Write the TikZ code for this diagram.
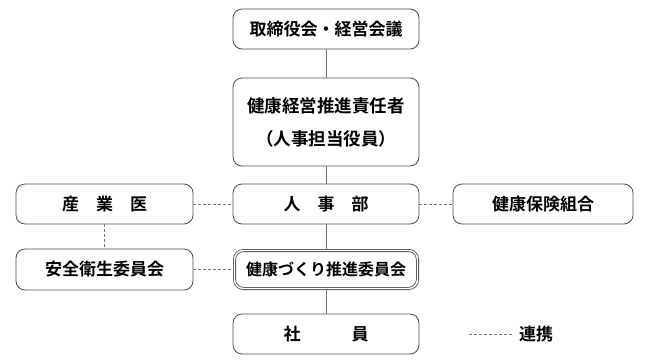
\documentclass[tikz,border=0pt]{standalone}
\usepackage{fontspec}
\setmainfont{Noto Sans CJK JP}[BoldFont={* Bold}]
\begin{document}
\begin{tikzpicture}[x=1pt,y=-1pt,
  font=\bfseries\fontsize{17}{20}\selectfont,
  box/.style={draw=black!70, line width=0.8pt, rounded corners=9pt, minimum height=40pt, inner sep=0pt, text=black},
  solidlink/.style={draw=black!55, line width=0.8pt},
  duallink/.style={draw=black!55, line width=0.8pt, dash pattern=on 3pt off 2pt}
]
\useasboundingbox (0,0) rectangle (645,362);
\node[box, minimum width=186pt] (top) at (326,29) {取締役会・経営会議};
\node[box, minimum width=186pt, minimum height=88pt, align=center, font=\bfseries\fontsize{17.5}{33}\selectfont] (resp) at (326,122) {健康経営推進責任者\\（人事担当役員）};
\node[box, minimum width=186pt] (hr) at (326,204) {人　事　部};
\node[box, minimum width=177pt] (doc) at (104.5,204) {産　業　医};
\node[box, minimum width=180pt] (hic) at (543,204) {健康保険組合};
\node[box, minimum width=177pt, minimum height=41pt] (safety) at (104.5,269.5) {安全衛生委員会};
\node[box, minimum width=183pt, minimum height=38pt, double=white, double distance=1.4pt, font=\bfseries\fontsize{16}{20}\selectfont] (promo) at (326,269.5) {健康づくり推進委員会};
\node[box, minimum width=186pt] (emp) at (326,334) {社　　　員};
\draw[solidlink] (top) -- (resp);
\draw[solidlink] (resp) -- (hr);
\draw[solidlink] (hr) -- (promo);
\draw[solidlink] (promo) -- (emp);
\draw[duallink] (doc) -- (hr);
\draw[duallink] (hr) -- (hic);
\draw[duallink] (doc) -- (safety);
\draw[duallink] (safety) -- (promo);
\coordinate (la) at (469,334);
\coordinate (lb) at (512,334);
\draw[duallink] (la) -- (lb);
\node[anchor=west, inner sep=0pt] (leg) at (519,334) {連携};
\end{tikzpicture}
\end{document}
